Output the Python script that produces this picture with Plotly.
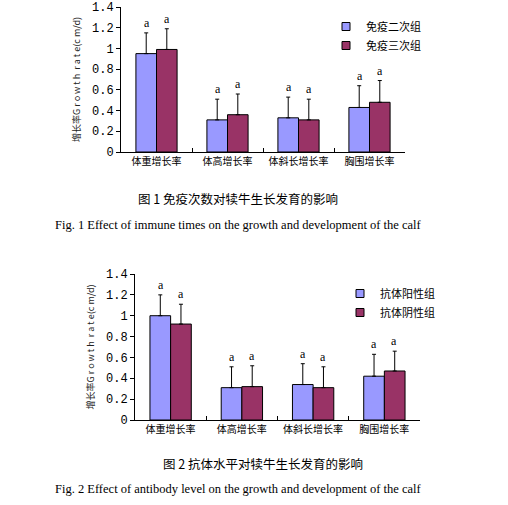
import plotly.graph_objects as go

categories = ["体重增长率", "体高增长率", "体斜长增长率", "胸围增长率"]

# figure 1: immune times
fig1_names = ["免疫二次组", "免疫三次组"]
fig1_a = [0.95, 0.31, 0.33, 0.43]
fig1_a_err = [0.20, 0.20, 0.20, 0.21]
fig1_b = [0.99, 0.36, 0.31, 0.48]
fig1_b_err = [0.20, 0.20, 0.20, 0.21]

# figure 2: antibody level
fig2_names = ["抗体阳性组", "抗体阴性组"]
fig2_a = [1.00, 0.31, 0.34, 0.42]
fig2_a_err = [0.20, 0.20, 0.20, 0.21]
fig2_b = [0.92, 0.32, 0.31, 0.47]
fig2_b_err = [0.19, 0.20, 0.20, 0.19]

sig_letters = ["a", "a", "a", "a"]
y_ticks = [0, 0.2, 0.4, 0.6, 0.8, 1, 1.2, 1.4]

colors = ["#9999FF", "#993366"]
cjk = "Noto Sans CJK SC"

W, H = 508, 505


# pixel -> paper fraction
def fx(px):
    return px / W


def fy(py):
    return 1 - py / H


fig = go.Figure()


def add_group(vals, errs, name, color, xa, ya, legend):
    fig.add_trace(go.Bar(
        x=categories, y=vals, name=name, xaxis=xa, yaxis=ya, showlegend=False,
        marker=dict(color=color, line=dict(color="black", width=1)),
        error_y=dict(type="data", symmetric=False, array=errs,
                     arrayminus=[0] * len(errs), color="black",
                     thickness=1, width=2),
    ))
    # small square legend entry
    fig.add_trace(go.Scatter(
        x=[None], y=[None], mode="markers", name=name, xaxis=xa, yaxis=ya, legend=legend,
        marker=dict(symbol="square", size=8, color=color, line=dict(color="black", width=1)),
    ))


add_group(fig1_a, fig1_a_err, fig1_names[0], colors[0], "x", "y", "legend")
add_group(fig1_b, fig1_b_err, fig1_names[1], colors[1], "x", "y", "legend")
add_group(fig2_a, fig2_a_err, fig2_names[0], colors[0], "x2", "y2", "legend2")
add_group(fig2_b, fig2_b_err, fig2_names[1], colors[1], "x2", "y2", "legend2")

# significance letters above the error bars
for xr, yr, groups in [("x", "y", [(fig1_a, fig1_a_err, -10), (fig1_b, fig1_b_err, 10)]),
                       ("x2", "y2", [(fig2_a, fig2_a_err, -10), (fig2_b, fig2_b_err, 10)])]:
    for vals, errs, shift in groups:
        for c, v, e, s in zip(categories, vals, errs, sig_letters):
            fig.add_annotation(x=c, y=v + e, xref=xr, yref=yr, text=s,
                               showarrow=False, xshift=shift, yanchor="bottom",
                               yshift=1, font=dict(family="Liberation Serif", size=12, color="black"))

axis_x = dict(showline=True, linecolor="black", linewidth=1, ticks="inside",
              tickson="boundaries", ticklen=4, tickcolor="black", automargin=False,
              tickfont=dict(family=cjk, size=10, color="black"), showgrid=False)
axis_y = dict(range=[0, 1.4], tickvals=y_ticks, ticktext=[str(t) for t in y_ticks],
              showline=True, linecolor="black", linewidth=1, ticks="outside",
              ticklen=4, tickcolor="black", showgrid=False, zeroline=False, automargin=False,
              tickfont=dict(family="Liberation Mono", size=12, color="black"),
              title=dict(text="增长率G r o w t h  r a t e(c m/d)",
                         font=dict(family=cjk, size=9, color="#222222"), standoff=9))

legend_style = dict(font=dict(family=cjk, size=11, color="black"), bgcolor="rgba(0,0,0,0)",
                    itemwidth=30, tracegroupgap=0, xanchor="left", yanchor="top")

fig.update_layout(
    width=W, height=H, margin=dict(l=0, r=0, t=0, b=0),
    paper_bgcolor="white", plot_bgcolor="white",
    barmode="group", bargap=0.42, bargroupgap=0,
    xaxis=dict(domain=[fx(121), fx(405)], anchor="y", **axis_x),
    yaxis=dict(domain=[fy(152), fy(7)], anchor="x", **axis_y),
    xaxis2=dict(domain=[fx(135), fx(420)], anchor="y2", **axis_x),
    yaxis2=dict(domain=[fy(420), fy(274)], anchor="x2", **axis_y),
    legend=dict(x=fx(326), y=fy(12), **legend_style),
    legend2=dict(x=fx(340), y=fy(279), **legend_style),
    showlegend=True,
)

captions = [
    ("图 1 免疫次数对犊牛生长发育的影响", 238, 198, cjk, 12.5, "center"),
    ("Fig. 1 Effect of immune times on the growth and development of the calf", 238, 225, "Liberation Serif", 12.5, "center"),
    ("图 2 抗体水平对犊牛生长发育的影响", 263, 463, cjk, 12.5, "center"),
    ("Fig. 2 Effect of antibody level on the growth and development of the calf", 53, 489, "Liberation Serif", 12.5, "left"),
]
for text, px_x, px_y, fam, size, anchor in captions:
    fig.add_annotation(x=fx(px_x), y=fy(px_y), xref="paper", yref="paper",
                       text=text, showarrow=False, xanchor=anchor, yanchor="middle",
                       font=dict(family=fam, size=size, color="black"))

# drop the page's default body margin so the figure fills the window
fig.write_html("out.html", config={"displayModeBar": False},
               post_script="document.body.style.margin='0';")
